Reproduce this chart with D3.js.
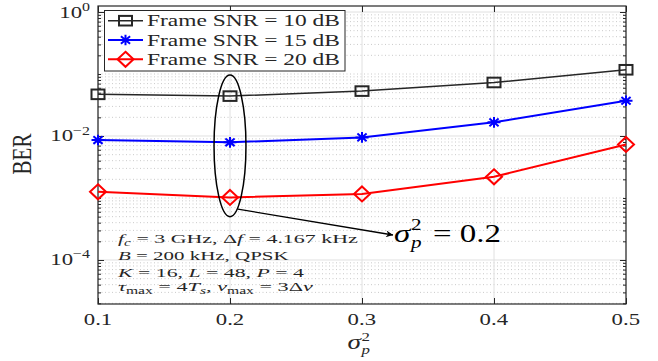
<!DOCTYPE html>
<html><head><meta charset="utf-8">
<script src="https://cdn.jsdelivr.net/npm/d3@7"></script>
<style>body{margin:0;background:#fff}text{white-space:pre}</style>
</head><body>
<svg id="c" width="658" height="361"></svg>
<script>
// ---- data ----
const sigmaP2 = [0.1, 0.2, 0.3, 0.4, 0.5];
const ber10dB = [0.047, 0.044, 0.053, 0.073, 0.117];
const ber15dB = [0.0086, 0.0079, 0.0095, 0.0166, 0.037];
const ber20dB = [0.00126, 0.00102, 0.00116, 0.0022, 0.0073];
const seriesNames = ["Frame SNR = 10 dB", "Frame SNR = 15 dB", "Frame SNR = 20 dB"];
const xTickValues = [0.1, 0.2, 0.3, 0.4, 0.5];
const xTickLabels = ["0.1", "0.2", "0.3", "0.4", "0.5"];
const yTickExponents = [0, -2, -4];
const yDomain = [1.95e-5, 1.25];
const xDomain = [0.1, 0.5];
// annotation (data coordinates)
const ellipseX = 0.2, ellipseYTop = 0.096, ellipseYBottom = 5.0e-4, ellipseHalfWidthX = 0.0121;
const arrowFrom = [0.206, 6.6e-4], arrowTo = [0.3235, 2.53e-4];

const svg = d3.select("#c");
const L = 98, R = 626, T = 6, B = 304;
const x = d3.scaleLinear().domain(xDomain).range([L, R]);
const y = d3.scaleLog().domain(yDomain).range([B, T]);
const SX = 1.3;
const FONT = "'Liberation Serif', 'Times New Roman', serif";
const AX = "#262626";

function rich(parent, segs, size) {
  const t = parent.append("text").attr("font-family", FONT).attr("font-size", size).attr("fill", AX);
  let cur = 0;
  segs.forEach(s => {
    const shift = s.s === "sub" ? 0.2 * size : s.s === "sup" ? -0.4 * size : 0;
    const tp = t.append("tspan").attr("dy", shift - cur).text(s.t);
    cur = shift;
    if (s.s) tp.attr("font-size", size * 0.7);
    if (s.i) tp.attr("font-style", "italic");
  });
  return t;
}
function place(t, px, py, anchor, targetW) {
  const w = t.node().getBBox().width;
  const s = targetW ? targetW / w : SX;
  const off = anchor === "end" ? -w : anchor === "middle" ? -w / 2 : 0;
  t.attr("x", off).attr("transform", `translate(${px},${py}) scale(${s},1)`);
  return t;
}

// ---- grid ----
const grid = svg.append("g");
const minorVals = [];
for (let e = -5; e <= 0; e++) for (let k = 1; k <= 9; k++) {
  const v = k * Math.pow(10, e);
  if (v >= yDomain[0] && v <= yDomain[1] && !(k === 1 && yTickExponents.includes(e))) minorVals.push(v);
}
grid.selectAll(".mg").data(minorVals).enter().append("line")
  .attr("x1", L).attr("x2", R).attr("y1", d => y(d)).attr("y2", d => y(d))
  .attr("stroke", "#bdbdbd").attr("stroke-width", 0.8).attr("stroke-dasharray", "1,2.5");
grid.selectAll(".Mg").data(yTickExponents).enter().append("line")
  .attr("x1", L).attr("x2", R).attr("y1", d => y(Math.pow(10, d))).attr("y2", d => y(Math.pow(10, d)))
  .attr("stroke", "#e0e0e0").attr("stroke-width", 1);
grid.selectAll(".xg").data(xTickValues).enter().append("line")
  .attr("y1", T).attr("y2", B).attr("x1", d => x(d)).attr("x2", d => x(d))
  .attr("stroke", "#e0e0e0").attr("stroke-width", 1);

// ---- axes (ticks inside) ----
const axL = d3.axisRight(y).tickValues(minorVals).tickSize(3).tickFormat("");
const axR = d3.axisLeft(y).tickValues(minorVals).tickSize(3).tickFormat("");
const axLM = d3.axisRight(y).tickValues(yTickExponents.map(e => Math.pow(10, e))).tickSize(6).tickFormat("");
const axRM = d3.axisLeft(y).tickValues(yTickExponents.map(e => Math.pow(10, e))).tickSize(6).tickFormat("");
const axB = d3.axisTop(x).tickValues(xTickValues).tickSize(6).tickFormat("");
const axT = d3.axisBottom(x).tickValues(xTickValues).tickSize(6).tickFormat("");
[[axL, `translate(${L},0)`], [axLM, `translate(${L},0)`], [axR, `translate(${R},0)`], [axRM, `translate(${R},0)`],
 [axB, `translate(0,${B})`], [axT, `translate(0,${T})`]].forEach(([a, tr]) => {
  const g = svg.append("g").attr("transform", tr).call(a);
  g.select(".domain").remove();
  g.selectAll("line").attr("stroke", AX).attr("stroke-width", 1);
});
svg.append("rect").attr("x", L).attr("y", T).attr("width", R - L).attr("height", B - T)
  .attr("fill", "none").attr("stroke", AX).attr("stroke-width", 1.2);

// tick labels
xTickValues.forEach((v, i) => {
  const t = rich(svg, [{t: xTickLabels[i]}], 17.5);
  place(t, x(v), 325, "middle");
});
yTickExponents.forEach(e => {
  const t = rich(svg, [{t: "10"}, {t: e === 0 ? "0" : "\u2212" + (-e), s: "sup"}], 17.5);
  place(t, 90, y(Math.pow(10, e)) + 5.5, "end");
});

// axis labels
svg.append("text").text("BER").attr("font-family", FONT).attr("font-size", 21).attr("fill", AX)
  .attr("text-anchor", "middle").attr("transform", `translate(31,154) scale(${SX},1) rotate(-90)`);
{
  const g = svg.append("g");
  const t = g.append("text").attr("font-family", FONT).attr("font-size", 21).attr("font-style", "italic").attr("fill", AX).text("\u03c3");
  const w = t.node().getComputedTextLength();
  g.append("text").attr("font-family", FONT).attr("font-size", 13).attr("fill", AX).attr("x", w + 0.5).attr("y", -8.5).text("2");
  g.append("text").attr("font-family", FONT).attr("font-size", 13).attr("font-style", "italic").attr("fill", AX).attr("x", w + 0.5).attr("y", 4.5).text("p");
  const bw = g.node().getBBox().width;
  g.attr("transform", `translate(${x(0.3) - bw * SX / 2 - 3},349) scale(${SX},1)`);
}

// ---- series ----
const series = [
  {v: ber10dB, color: "#262626", m: "square", w: 1.5},
  {v: ber15dB, color: "#0000ff", m: "star", w: 2},
  {v: ber20dB, color: "#ff0000", m: "diamond", w: 2}
];
function marker(g, type, cx, cy, color) {
  if (type === "square") {
    g.append("rect").attr("x", cx - 6.5).attr("y", cy - 4.8).attr("width", 13).attr("height", 9.6)
      .attr("fill", "none").attr("stroke", color).attr("stroke-width", 2);
  } else if (type === "diamond") {
    g.append("path").attr("d", `M${cx},${cy - 7.5}L${cx + 8},${cy}L${cx},${cy + 7.5}L${cx - 8},${cy}Z`)
      .attr("fill", "none").attr("stroke", color).attr("stroke-width", 2);
  } else {
    const a = 6.5, b = 5.3, c = 4.6, d = 3.8;
    g.append("path").attr("d", `M${cx - a},${cy}L${cx + a},${cy}M${cx},${cy - b}L${cx},${cy + b}M${cx - c},${cy - d}L${cx + c},${cy + d}M${cx - c},${cy + d}L${cx + c},${cy - d}`)
      .attr("stroke", color).attr("stroke-width", 2).attr("fill", "none");
  }
}
const line = d3.line().x((d, i) => x(sigmaP2[i])).y(d => y(d));
series.forEach(s => {
  const g = svg.append("g");
  g.append("path").attr("d", line(s.v)).attr("fill", "none").attr("stroke", s.color).attr("stroke-width", s.w);
  s.v.forEach((d, i) => marker(g, s.m, x(sigmaP2[i]), y(d), s.color));
});

// ---- annotation ----
svg.append("ellipse").attr("cx", x(ellipseX)).attr("cy", (y(ellipseYTop) + y(ellipseYBottom)) / 2)
  .attr("rx", x(ellipseX + ellipseHalfWidthX) - x(ellipseX)).attr("ry", (y(ellipseYBottom) - y(ellipseYTop)) / 2)
  .attr("fill", "none").attr("stroke", "#000").attr("stroke-width", 1.5);
svg.append("defs").append("marker").attr("id", "ah").attr("viewBox", "0 0 10 10").attr("refX", 10).attr("refY", 5)
  .attr("markerWidth", 11).attr("markerHeight", 7).attr("markerUnits", "userSpaceOnUse").attr("orient", "auto")
  .append("path").attr("d", "M0,0L10,5L0,10L3,5Z").attr("fill", "#000");
svg.append("line").attr("x1", x(arrowFrom[0])).attr("y1", y(arrowFrom[1])).attr("x2", x(arrowTo[0])).attr("y2", y(arrowTo[1]))
  .attr("stroke", "#000").attr("stroke-width", 1.3).attr("marker-end", "url(#ah)");
{
  const g = svg.append("g");
  const t = g.append("text").attr("font-family", FONT).attr("font-size", 25).attr("font-style", "italic").attr("fill", "#000").text("\u03c3");
  const w = t.node().getComputedTextLength();
  g.append("text").attr("font-family", FONT).attr("font-size", 16).attr("fill", "#000").attr("x", w + 0.5).attr("y", -12).text("2");
  g.append("text").attr("font-family", FONT).attr("font-size", 16).attr("font-style", "italic").attr("fill", "#000").attr("x", w + 0.5).attr("y", 6).text("p");
  g.append("text").attr("font-family", FONT).attr("font-size", 25).attr("fill", "#000").attr("x", w + 11).text(" = 0.2");
  const bw = g.node().getBBox().width;
  g.attr("transform", `translate(${x(arrowTo[0]) + 1},242) scale(${107 / bw},1)`);
}

// parameter text
const paramLines = [
  [{t: "f", i: 1}, {t: "c", i: 1, s: "sub"}, {t: " = 3 GHz, \u0394"}, {t: "f", i: 1}, {t: " = 4.167 kHz"}],
  [{t: "B", i: 1}, {t: " = 200 kHz, QPSK"}],
  [{t: "K", i: 1}, {t: " = 16, "}, {t: "L", i: 1}, {t: " = 48, "}, {t: "P", i: 1}, {t: " = 4"}],
  [{t: "\u03c4", i: 1}, {t: "max", s: "sub"}, {t: " = 4"}, {t: "T", i: 1}, {t: "s", i: 1, s: "sub"}, {t: ", "}, {t: "\u03bd", i: 1}, {t: "max", s: "sub"}, {t: " = 3\u0394"}, {t: "\u03bd", i: 1}]
];
const paramBase = [243, 259.5, 276.5, 291];
const paramW = [240, 171, 188, 195];
paramLines.forEach((segs, i) => {
  const t = rich(svg, segs, 13.5);
  place(t, 118, paramBase[i], "start", paramW[i]);
});

// ---- legend ----
const lg = svg.append("g");
lg.append("rect").attr("x", 104.5).attr("y", 10.5).attr("width", 240.5).attr("height", 60.5)
  .attr("fill", "#fff").attr("stroke", AX).attr("stroke-width", 1);
series.forEach((s, i) => {
  const cy = 20.7 + i * 19.3;
  lg.append("line").attr("x1", 108).attr("x2", 143).attr("y1", cy).attr("y2", cy).attr("stroke", s.color).attr("stroke-width", s.w);
  marker(lg, s.m, 125.5, cy, s.color);
  const t = rich(lg, [{t: seriesNames[i]}], 16.5);
  place(t, 147, cy + 5.5, "start", 193);
});
</script>
</body></html>
